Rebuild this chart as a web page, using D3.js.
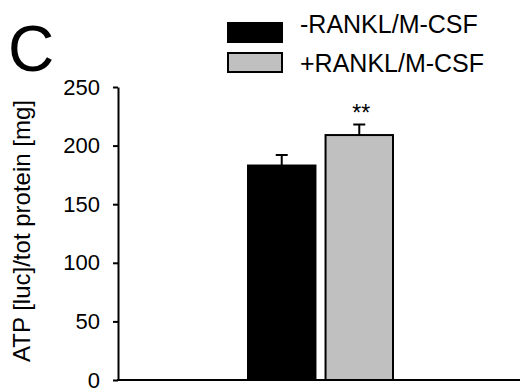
<!DOCTYPE html>
<html>
<head>
<meta charset="utf-8">
<script src="https://cdn.jsdelivr.net/npm/d3@7"></script>
<style>
  html, body { margin: 0; padding: 0; background: #fff; }
  svg { display: block; font-family: Arial, "Liberation Sans", sans-serif; }
</style>
</head>
<body>
<svg id="chart" width="520" height="390"></svg>
<script>
// ATP content normalised to total protein, with and without RANKL/M-CSF
const groups = ["-RANKL/M-CSF", "+RANKL/M-CSF"];
const means = [183, 209];
const errors = [9, 9];
const fills = ["#000000", "#c0c0c0"];
const yTicks = [0, 50, 100, 150, 200, 250];
const significance = ["", "**"];

const svg = d3.select("#chart");
const plotLeft = 118, plotRight = 520, plotTop = 87, plotBottom = 380;

const y = d3.scaleLinear().domain([0, 250]).range([plotBottom, plotTop]);
const x = d3.scaleBand().domain(groups).range([248, 393]).paddingInner(0.13);

// bars
svg.selectAll("rect.bar").data(groups).join("rect")
  .attr("class", "bar")
  .attr("x", d => x(d))
  .attr("width", x.bandwidth())
  .attr("y", (d, i) => y(means[i]))
  .attr("height", (d, i) => y(0) - y(means[i]))
  .attr("fill", (d, i) => fills[i])
  .attr("stroke", "#000")
  .attr("stroke-width", 2);

// error bars (upper only)
const eb = svg.selectAll("g.err").data(groups).join("g").attr("class", "err");
eb.append("line")
  .attr("x1", d => x(d) + x.bandwidth() / 2)
  .attr("x2", d => x(d) + x.bandwidth() / 2)
  .attr("y1", (d, i) => y(means[i]))
  .attr("y2", (d, i) => y(means[i] + errors[i]))
  .attr("stroke", "#000").attr("stroke-width", 2);
eb.append("line")
  .attr("x1", d => x(d) + x.bandwidth() / 2 - 6)
  .attr("x2", d => x(d) + x.bandwidth() / 2 + 6)
  .attr("y1", (d, i) => y(means[i] + errors[i]))
  .attr("y2", (d, i) => y(means[i] + errors[i]))
  .attr("stroke", "#000").attr("stroke-width", 2);

// significance markers
svg.selectAll("text.sig").data(groups).join("text")
  .attr("class", "sig")
  .attr("x", d => x(d) + x.bandwidth() / 2 + 2)
  .attr("y", (d, i) => y(means[i] + errors[i]) - 4)
  .attr("text-anchor", "middle")
  .attr("font-size", 23)
  .text((d, i) => significance[i]);

// y axis
const yAxis = svg.append("g")
  .attr("transform", `translate(${plotLeft},0)`)
  .call(d3.axisLeft(y).tickValues(yTicks).tickSize(5).tickPadding(13).tickSizeOuter(0));
yAxis.select(".domain").attr("stroke-width", 2);
yAxis.selectAll(".tick line").attr("stroke-width", 2);
yAxis.selectAll(".tick text").attr("font-size", 22).attr("font-family", "Arial, 'Liberation Sans', sans-serif").attr("fill", "#000");

// x axis baseline
svg.append("line")
  .attr("x1", plotLeft - 1).attr("x2", plotRight)
  .attr("y1", y(0)).attr("y2", y(0))
  .attr("stroke", "#000").attr("stroke-width", 2);

// y axis title
svg.append("text")
  .attr("transform", `translate(30,231) rotate(-90)`)
  .attr("text-anchor", "middle")
  .attr("font-size", 24)
  .text("ATP [luc]/tot protein [mg]");

// panel letter
svg.append("text")
  .attr("x", 8).attr("y", 71)
  .attr("font-size", 64)
  .text("C");

// legend
const legend = svg.append("g");
const legY = [22, 52];
const textY = [33, 72];
legend.selectAll("rect").data(groups).join("rect")
  .attr("x", 228).attr("y", (d, i) => legY[i] + 1)
  .attr("width", 54).attr("height", 19)
  .attr("fill", (d, i) => fills[i])
  .attr("stroke", "#000").attr("stroke-width", 2);
legend.selectAll("text").data(groups).join("text")
  .attr("x", 300).attr("y", (d, i) => textY[i])
  .attr("font-size", 25)
  .text(d => d);
</script>
</body>
</html>
